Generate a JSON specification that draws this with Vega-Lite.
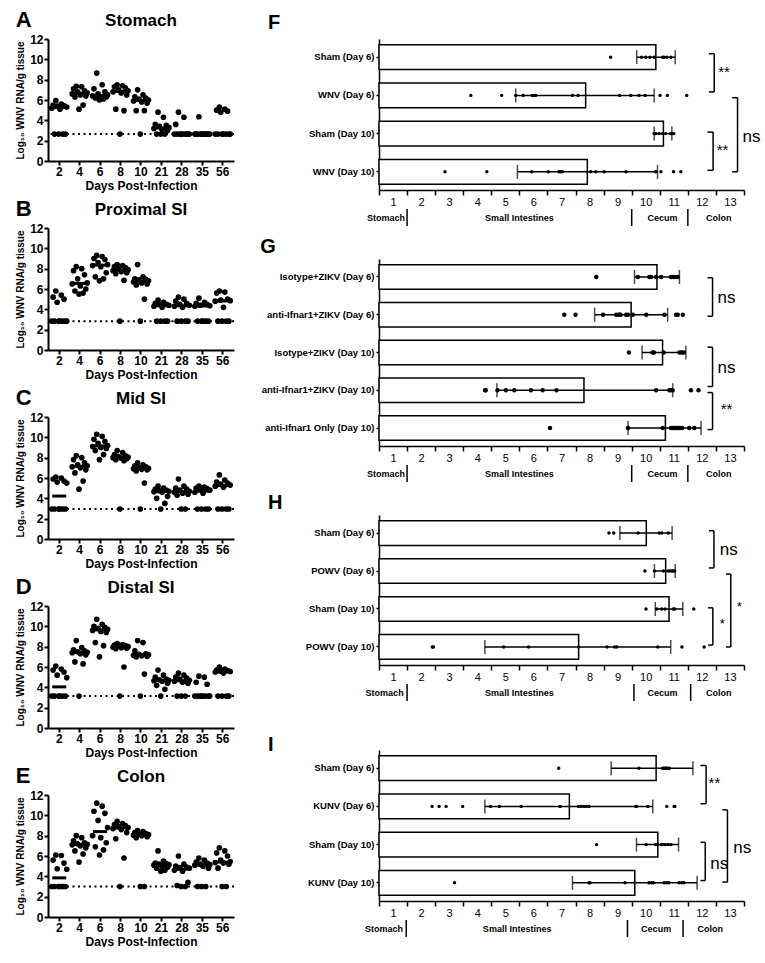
{
"$schema": "https://vega.github.io/schema/vega-lite/v6.json",
"background": "white",
"padding": {"left": 15, "top": 9, "right": 0, "bottom": 0},
"config": {"font": "Liberation Sans", "view": {"stroke": null}, "axis": {"domainColor": "black", "tickColor": "black", "labelColor": "black", "titleColor": "black", "grid": false, "labelOverlap": false, "labelSeparation": -200}, "title": {"color": "black"}},
"datasets": {
"A": [
{"d":2,"m":1,"v":5.2},{"d":2,"m":2,"v":5.5},{"d":2,"m":3,"v":2.65},{"d":2,"m":4,"v":5.95},{"d":2,"m":5,"v":5.4},{"d":2,"m":6,"v":2.65},{"d":2,"m":7,"v":5.1},{"d":2,"m":8,"v":5.6},{"d":2,"m":9,"v":2.65},{"d":2,"m":10,"v":5.45},{"d":2,"m":11,"v":2.65},{"d":2,"m":12,"v":5.3},
{"d":4,"m":1,"v":6.6},{"d":4,"m":2,"v":7.1},{"d":4,"m":3,"v":6.3},{"d":4,"m":4,"v":7.35},{"d":4,"m":5,"v":6.8},{"d":4,"m":6,"v":5.1},{"d":4,"m":7,"v":6.5},{"d":4,"m":8,"v":7.3},{"d":4,"m":9,"v":5.5},{"d":4,"m":10,"v":6.9},{"d":4,"m":11,"v":6.4},{"d":4,"m":12,"v":6.7},
{"d":6,"m":1,"v":6.4},{"d":6,"m":2,"v":7.1},{"d":6,"m":3,"v":6.2},{"d":6,"m":4,"v":8.65},{"d":6,"m":5,"v":6.6},{"d":6,"m":6,"v":6.0},{"d":6,"m":7,"v":6.3},{"d":6,"m":8,"v":7.5},{"d":6,"m":9,"v":6.1},{"d":6,"m":10,"v":6.8},{"d":6,"m":11,"v":6.3},{"d":6,"m":12,"v":6.5},
{"d":8,"m":1,"v":6.8},{"d":8,"m":2,"v":7.3},{"d":8,"m":3,"v":5.1},{"d":8,"m":4,"v":7.5},{"d":8,"m":5,"v":7.0},{"d":8,"m":6,"v":2.65},{"d":8,"m":7,"v":6.7},{"d":8,"m":8,"v":7.4},{"d":8,"m":9,"v":4.95},{"d":8,"m":10,"v":7.2},{"d":8,"m":11,"v":6.5},{"d":8,"m":12,"v":6.9},
{"d":10,"m":1,"v":5.9},{"d":10,"m":2,"v":6.3},{"d":10,"m":3,"v":4.95},{"d":10,"m":4,"v":7.0},{"d":10,"m":5,"v":6.1},{"d":10,"m":6,"v":2.65},{"d":10,"m":7,"v":5.8},{"d":10,"m":8,"v":6.5},{"d":10,"m":9,"v":4.95},{"d":10,"m":10,"v":6.2},{"d":10,"m":11,"v":5.7},{"d":10,"m":12,"v":6.0},
{"d":21,"m":1,"v":3.2},{"d":21,"m":2,"v":3.6},{"d":21,"m":3,"v":2.65},{"d":21,"m":4,"v":4.8},{"d":21,"m":5,"v":3.4},{"d":21,"m":6,"v":2.65},{"d":21,"m":7,"v":3.1},{"d":21,"m":8,"v":4.3},{"d":21,"m":9,"v":2.65},{"d":21,"m":10,"v":3.5},{"d":21,"m":11,"v":3.0},{"d":21,"m":12,"v":3.3},
{"d":28,"m":1,"v":2.65},{"d":28,"m":2,"v":3.6},{"d":28,"m":3,"v":2.65},{"d":28,"m":4,"v":4.8},{"d":28,"m":5,"v":2.65},{"d":28,"m":6,"v":2.65},{"d":28,"m":7,"v":2.65},{"d":28,"m":8,"v":4.3},{"d":28,"m":9,"v":2.65},{"d":28,"m":10,"v":2.65},{"d":28,"m":11,"v":2.65},{"d":28,"m":12,"v":2.65},
{"d":35,"m":1,"v":2.65},{"d":35,"m":2,"v":2.65},{"d":35,"m":3,"v":2.65},{"d":35,"m":4,"v":4.35},{"d":35,"m":5,"v":2.65},{"d":35,"m":6,"v":2.65},{"d":35,"m":7,"v":2.65},{"d":35,"m":8,"v":2.65},{"d":35,"m":9,"v":2.65},{"d":35,"m":10,"v":2.65},{"d":35,"m":11,"v":2.65},{"d":35,"m":12,"v":2.65},
{"d":56,"m":1,"v":2.65},{"d":56,"m":2,"v":5.0},{"d":56,"m":3,"v":2.65},{"d":56,"m":4,"v":5.3},{"d":56,"m":5,"v":4.8},{"d":56,"m":6,"v":2.65},{"d":56,"m":7,"v":2.65},{"d":56,"m":8,"v":5.1},{"d":56,"m":9,"v":2.65},{"d":56,"m":10,"v":4.9},{"d":56,"m":11,"v":2.65},{"d":56,"m":12,"v":2.65}
],
"B": [
{"d":2,"m":1,"v":2.84},{"d":2,"m":2,"v":5.2},{"d":2,"m":3,"v":2.84},{"d":2,"m":4,"v":5.8},{"d":2,"m":5,"v":4.7},{"d":2,"m":6,"v":2.84},{"d":2,"m":7,"v":2.84},{"d":2,"m":8,"v":5.4},{"d":2,"m":9,"v":2.84},{"d":2,"m":10,"v":5.0},{"d":2,"m":11,"v":2.84},{"d":2,"m":12,"v":2.84},
{"d":4,"m":1,"v":6.5},{"d":4,"m":2,"v":7.8},{"d":4,"m":3,"v":5.8},{"d":4,"m":4,"v":8.2},{"d":4,"m":5,"v":7.0},{"d":4,"m":6,"v":5.5},{"d":4,"m":7,"v":6.3},{"d":4,"m":8,"v":8.0},{"d":4,"m":9,"v":5.6},{"d":4,"m":10,"v":7.4},{"d":4,"m":11,"v":6.0},{"d":4,"m":12,"v":6.6},
{"d":6,"m":1,"v":8.3},{"d":6,"m":2,"v":9.0},{"d":6,"m":3,"v":7.2},{"d":6,"m":4,"v":9.3},{"d":6,"m":5,"v":8.6},{"d":6,"m":6,"v":6.8},{"d":6,"m":7,"v":8.2},{"d":6,"m":8,"v":9.2},{"d":6,"m":9,"v":7.0},{"d":6,"m":10,"v":8.9},{"d":6,"m":11,"v":7.6},{"d":6,"m":12,"v":8.4},
{"d":8,"m":1,"v":7.8},{"d":8,"m":2,"v":8.2},{"d":8,"m":3,"v":7.5},{"d":8,"m":4,"v":8.4},{"d":8,"m":5,"v":8.0},{"d":8,"m":6,"v":2.84},{"d":8,"m":7,"v":7.7},{"d":8,"m":8,"v":8.3},{"d":8,"m":9,"v":6.85},{"d":8,"m":10,"v":8.1},{"d":8,"m":11,"v":7.6},{"d":8,"m":12,"v":7.9},
{"d":10,"m":1,"v":6.7},{"d":10,"m":2,"v":7.0},{"d":10,"m":3,"v":6.4},{"d":10,"m":4,"v":8.4},{"d":10,"m":5,"v":6.9},{"d":10,"m":6,"v":2.84},{"d":10,"m":7,"v":6.6},{"d":10,"m":8,"v":7.2},{"d":10,"m":9,"v":5.0},{"d":10,"m":10,"v":6.95},{"d":10,"m":11,"v":6.5},{"d":10,"m":12,"v":6.8},
{"d":21,"m":1,"v":4.3},{"d":21,"m":2,"v":4.6},{"d":21,"m":3,"v":2.84},{"d":21,"m":4,"v":4.9},{"d":21,"m":5,"v":4.5},{"d":21,"m":6,"v":2.84},{"d":21,"m":7,"v":4.2},{"d":21,"m":8,"v":4.7},{"d":21,"m":9,"v":2.84},{"d":21,"m":10,"v":4.5},{"d":21,"m":11,"v":2.84},{"d":21,"m":12,"v":4.4},
{"d":28,"m":1,"v":4.3},{"d":28,"m":2,"v":4.8},{"d":28,"m":3,"v":2.84},{"d":28,"m":4,"v":5.2},{"d":28,"m":5,"v":4.5},{"d":28,"m":6,"v":2.84},{"d":28,"m":7,"v":4.2},{"d":28,"m":8,"v":5.0},{"d":28,"m":9,"v":2.84},{"d":28,"m":10,"v":4.6},{"d":28,"m":11,"v":2.84},{"d":28,"m":12,"v":4.4},
{"d":35,"m":1,"v":4.3},{"d":35,"m":2,"v":4.6},{"d":35,"m":3,"v":2.84},{"d":35,"m":4,"v":5.1},{"d":35,"m":5,"v":4.4},{"d":35,"m":6,"v":2.84},{"d":35,"m":7,"v":2.84},{"d":35,"m":8,"v":4.7},{"d":35,"m":9,"v":2.84},{"d":35,"m":10,"v":4.5},{"d":35,"m":11,"v":2.84},{"d":35,"m":12,"v":4.35},
{"d":56,"m":1,"v":4.8},{"d":56,"m":2,"v":5.6},{"d":56,"m":3,"v":2.84},{"d":56,"m":4,"v":5.8},{"d":56,"m":5,"v":4.9},{"d":56,"m":6,"v":2.84},{"d":56,"m":7,"v":4.2},{"d":56,"m":8,"v":5.7},{"d":56,"m":9,"v":2.84},{"d":56,"m":10,"v":5.0},{"d":56,"m":11,"v":2.84},{"d":56,"m":12,"v":4.85}
],
"C": [
{"d":2,"m":1,"v":2.95},{"d":2,"m":2,"v":5.9},{"d":2,"m":3,"v":2.95},{"d":2,"m":4,"v":6.1},{"d":2,"m":5,"v":5.6},{"d":2,"m":6,"v":2.95},{"d":2,"m":7,"v":2.95},{"d":2,"m":8,"v":6.0},{"d":2,"m":9,"v":2.95},{"d":2,"m":10,"v":5.7},{"d":2,"m":11,"v":2.95},{"d":2,"m":12,"v":5.5},
{"d":4,"m":1,"v":7.1},{"d":4,"m":2,"v":7.8},{"d":4,"m":3,"v":6.5},{"d":4,"m":4,"v":8.2},{"d":4,"m":5,"v":7.3},{"d":4,"m":6,"v":4.9},{"d":4,"m":7,"v":7.0},{"d":4,"m":8,"v":8.0},{"d":4,"m":9,"v":5.7},{"d":4,"m":10,"v":7.5},{"d":4,"m":11,"v":6.8},{"d":4,"m":12,"v":7.2},
{"d":6,"m":1,"v":9.1},{"d":6,"m":2,"v":9.8},{"d":6,"m":3,"v":8.7},{"d":6,"m":4,"v":10.3},{"d":6,"m":5,"v":9.4},{"d":6,"m":6,"v":7.8},{"d":6,"m":7,"v":9.0},{"d":6,"m":8,"v":10.1},{"d":6,"m":9,"v":8.3},{"d":6,"m":10,"v":9.6},{"d":6,"m":11,"v":8.9},{"d":6,"m":12,"v":9.2},
{"d":8,"m":1,"v":8.0},{"d":8,"m":2,"v":8.3},{"d":8,"m":3,"v":7.8},{"d":8,"m":4,"v":8.7},{"d":8,"m":5,"v":8.1},{"d":8,"m":6,"v":2.95},{"d":8,"m":7,"v":7.95},{"d":8,"m":8,"v":8.5},{"d":8,"m":9,"v":7.7},{"d":8,"m":10,"v":8.2},{"d":8,"m":11,"v":7.9},{"d":8,"m":12,"v":8.05},
{"d":10,"m":1,"v":6.9},{"d":10,"m":2,"v":7.2},{"d":10,"m":3,"v":6.7},{"d":10,"m":4,"v":7.5},{"d":10,"m":5,"v":7.0},{"d":10,"m":6,"v":2.95},{"d":10,"m":7,"v":6.85},{"d":10,"m":8,"v":7.3},{"d":10,"m":9,"v":5.5},{"d":10,"m":10,"v":7.1},{"d":10,"m":11,"v":6.8},{"d":10,"m":12,"v":6.95},
{"d":21,"m":1,"v":4.65},{"d":21,"m":2,"v":4.9},{"d":21,"m":3,"v":4.0},{"d":21,"m":4,"v":5.2},{"d":21,"m":5,"v":4.75},{"d":21,"m":6,"v":2.95},{"d":21,"m":7,"v":4.6},{"d":21,"m":8,"v":5.0},{"d":21,"m":9,"v":3.5},{"d":21,"m":10,"v":4.8},{"d":21,"m":11,"v":4.2},{"d":21,"m":12,"v":4.7},
{"d":28,"m":1,"v":4.6},{"d":28,"m":2,"v":5.0},{"d":28,"m":3,"v":4.3},{"d":28,"m":4,"v":5.9},{"d":28,"m":5,"v":4.8},{"d":28,"m":6,"v":2.95},{"d":28,"m":7,"v":4.5},{"d":28,"m":8,"v":5.2},{"d":28,"m":9,"v":2.95},{"d":28,"m":10,"v":4.9},{"d":28,"m":11,"v":4.4},{"d":28,"m":12,"v":4.7},
{"d":35,"m":1,"v":4.6},{"d":35,"m":2,"v":5.0},{"d":35,"m":3,"v":2.95},{"d":35,"m":4,"v":5.2},{"d":35,"m":5,"v":4.9},{"d":35,"m":6,"v":2.95},{"d":35,"m":7,"v":4.5},{"d":35,"m":8,"v":5.1},{"d":35,"m":9,"v":2.95},{"d":35,"m":10,"v":4.95},{"d":35,"m":11,"v":2.95},{"d":35,"m":12,"v":4.8},
{"d":56,"m":1,"v":5.2},{"d":56,"m":2,"v":5.6},{"d":56,"m":3,"v":2.95},{"d":56,"m":4,"v":6.3},{"d":56,"m":5,"v":5.4},{"d":56,"m":6,"v":2.95},{"d":56,"m":7,"v":5.1},{"d":56,"m":8,"v":5.8},{"d":56,"m":9,"v":2.95},{"d":56,"m":10,"v":5.5},{"d":56,"m":11,"v":2.95},{"d":56,"m":12,"v":5.3}
],
"D": [
{"d":2,"m":1,"v":3.14},{"d":2,"m":2,"v":5.7},{"d":2,"m":3,"v":3.14},{"d":2,"m":4,"v":6.1},{"d":2,"m":5,"v":5.2},{"d":2,"m":6,"v":3.14},{"d":2,"m":7,"v":3.14},{"d":2,"m":8,"v":5.8},{"d":2,"m":9,"v":3.14},{"d":2,"m":10,"v":5.5},{"d":2,"m":11,"v":3.14},{"d":2,"m":12,"v":4.95},
{"d":4,"m":1,"v":7.4},{"d":4,"m":2,"v":7.7},{"d":4,"m":3,"v":6.5},{"d":4,"m":4,"v":8.6},{"d":4,"m":5,"v":7.5},{"d":4,"m":6,"v":3.14},{"d":4,"m":7,"v":7.3},{"d":4,"m":8,"v":7.9},{"d":4,"m":9,"v":6.3},{"d":4,"m":10,"v":7.6},{"d":4,"m":11,"v":7.2},{"d":4,"m":12,"v":7.45},
{"d":6,"m":1,"v":9.6},{"d":6,"m":2,"v":10.0},{"d":6,"m":3,"v":8.4},{"d":6,"m":4,"v":10.7},{"d":6,"m":5,"v":9.8},{"d":6,"m":6,"v":7.0},{"d":6,"m":7,"v":9.5},{"d":6,"m":8,"v":10.2},{"d":6,"m":9,"v":8.1},{"d":6,"m":10,"v":9.9},{"d":6,"m":11,"v":9.4},{"d":6,"m":12,"v":9.7},
{"d":8,"m":1,"v":7.95},{"d":8,"m":2,"v":8.15},{"d":8,"m":3,"v":7.8},{"d":8,"m":4,"v":8.3},{"d":8,"m":5,"v":8.05},{"d":8,"m":6,"v":3.14},{"d":8,"m":7,"v":7.9},{"d":8,"m":8,"v":8.2},{"d":8,"m":9,"v":6.0},{"d":8,"m":10,"v":8.1},{"d":8,"m":11,"v":7.85},{"d":8,"m":12,"v":8.0},
{"d":10,"m":1,"v":7.15},{"d":10,"m":2,"v":7.6},{"d":10,"m":3,"v":7.0},{"d":10,"m":4,"v":8.6},{"d":10,"m":5,"v":7.25},{"d":10,"m":6,"v":3.14},{"d":10,"m":7,"v":7.1},{"d":10,"m":8,"v":8.4},{"d":10,"m":9,"v":5.3},{"d":10,"m":10,"v":7.3},{"d":10,"m":11,"v":7.05},{"d":10,"m":12,"v":7.2},
{"d":21,"m":1,"v":4.65},{"d":21,"m":2,"v":5.0},{"d":21,"m":3,"v":4.2},{"d":21,"m":4,"v":5.7},{"d":21,"m":5,"v":4.75},{"d":21,"m":6,"v":3.14},{"d":21,"m":7,"v":4.6},{"d":21,"m":8,"v":5.2},{"d":21,"m":9,"v":3.8},{"d":21,"m":10,"v":4.8},{"d":21,"m":11,"v":4.4},{"d":21,"m":12,"v":4.7},
{"d":28,"m":1,"v":4.6},{"d":28,"m":2,"v":5.0},{"d":28,"m":3,"v":3.14},{"d":28,"m":4,"v":5.4},{"d":28,"m":5,"v":4.8},{"d":28,"m":6,"v":3.14},{"d":28,"m":7,"v":4.5},{"d":28,"m":8,"v":5.2},{"d":28,"m":9,"v":3.14},{"d":28,"m":10,"v":4.9},{"d":28,"m":11,"v":4.4},{"d":28,"m":12,"v":4.7},
{"d":35,"m":1,"v":3.14},{"d":35,"m":2,"v":4.5},{"d":35,"m":3,"v":3.14},{"d":35,"m":4,"v":5.1},{"d":35,"m":5,"v":3.14},{"d":35,"m":6,"v":3.14},{"d":35,"m":7,"v":3.14},{"d":35,"m":8,"v":5.0},{"d":35,"m":9,"v":3.14},{"d":35,"m":10,"v":4.3},{"d":35,"m":11,"v":3.14},{"d":35,"m":12,"v":3.14},
{"d":56,"m":1,"v":5.5},{"d":56,"m":2,"v":5.7},{"d":56,"m":3,"v":3.14},{"d":56,"m":4,"v":6.0},{"d":56,"m":5,"v":5.6},{"d":56,"m":6,"v":3.14},{"d":56,"m":7,"v":5.4},{"d":56,"m":8,"v":5.8},{"d":56,"m":9,"v":3.14},{"d":56,"m":10,"v":5.65},{"d":56,"m":11,"v":3.14},{"d":56,"m":12,"v":5.55}
],
"E": [
{"d":2,"m":1,"v":3.0},{"d":2,"m":2,"v":5.6},{"d":2,"m":3,"v":3.0},{"d":2,"m":4,"v":6.1},{"d":2,"m":5,"v":4.75},{"d":2,"m":6,"v":3.0},{"d":2,"m":7,"v":3.0},{"d":2,"m":8,"v":6.05},{"d":2,"m":9,"v":3.0},{"d":2,"m":10,"v":5.3},{"d":2,"m":11,"v":3.0},{"d":2,"m":12,"v":4.7},
{"d":4,"m":1,"v":7.1},{"d":4,"m":2,"v":7.5},{"d":4,"m":3,"v":6.5},{"d":4,"m":4,"v":8.0},{"d":4,"m":5,"v":7.2},{"d":4,"m":6,"v":5.4},{"d":4,"m":7,"v":7.0},{"d":4,"m":8,"v":7.8},{"d":4,"m":9,"v":6.2},{"d":4,"m":10,"v":7.3},{"d":4,"m":11,"v":6.8},{"d":4,"m":12,"v":7.15},
{"d":6,"m":1,"v":8.0},{"d":6,"m":2,"v":10.4},{"d":6,"m":3,"v":6.9},{"d":6,"m":4,"v":11.2},{"d":6,"m":5,"v":9.5},{"d":6,"m":6,"v":6.1},{"d":6,"m":7,"v":7.8},{"d":6,"m":8,"v":10.9},{"d":6,"m":9,"v":6.6},{"d":6,"m":10,"v":10.2},{"d":6,"m":11,"v":7.3},{"d":6,"m":12,"v":8.8},
{"d":8,"m":1,"v":8.7},{"d":8,"m":2,"v":9.1},{"d":8,"m":3,"v":7.7},{"d":8,"m":4,"v":9.4},{"d":8,"m":5,"v":8.9},{"d":8,"m":6,"v":3.0},{"d":8,"m":7,"v":8.6},{"d":8,"m":8,"v":9.2},{"d":8,"m":9,"v":5.8},{"d":8,"m":10,"v":9.0},{"d":8,"m":11,"v":8.3},{"d":8,"m":12,"v":8.8},
{"d":10,"m":1,"v":8.05},{"d":10,"m":2,"v":8.3},{"d":10,"m":3,"v":7.8},{"d":10,"m":4,"v":8.5},{"d":10,"m":5,"v":8.15},{"d":10,"m":6,"v":3.0},{"d":10,"m":7,"v":8.0},{"d":10,"m":8,"v":8.4},{"d":10,"m":9,"v":3.0},{"d":10,"m":10,"v":8.2},{"d":10,"m":11,"v":7.9},{"d":10,"m":12,"v":8.1},
{"d":21,"m":1,"v":5.1},{"d":21,"m":2,"v":5.3},{"d":21,"m":3,"v":4.8},{"d":21,"m":4,"v":6.5},{"d":21,"m":5,"v":5.2},{"d":21,"m":6,"v":4.5},{"d":21,"m":7,"v":5.0},{"d":21,"m":8,"v":5.5},{"d":21,"m":9,"v":4.6},{"d":21,"m":10,"v":5.25},{"d":21,"m":11,"v":4.9},{"d":21,"m":12,"v":5.15},
{"d":28,"m":1,"v":4.6},{"d":28,"m":2,"v":5.0},{"d":28,"m":3,"v":3.1},{"d":28,"m":4,"v":6.0},{"d":28,"m":5,"v":4.85},{"d":28,"m":6,"v":3.0},{"d":28,"m":7,"v":4.5},{"d":28,"m":8,"v":5.2},{"d":28,"m":9,"v":3.0},{"d":28,"m":10,"v":4.9},{"d":28,"m":11,"v":3.4},{"d":28,"m":12,"v":4.8},
{"d":35,"m":1,"v":5.1},{"d":35,"m":2,"v":5.4},{"d":35,"m":3,"v":3.0},{"d":35,"m":4,"v":5.8},{"d":35,"m":5,"v":5.2},{"d":35,"m":6,"v":3.0},{"d":35,"m":7,"v":5.0},{"d":35,"m":8,"v":5.6},{"d":35,"m":9,"v":3.0},{"d":35,"m":10,"v":5.3},{"d":35,"m":11,"v":4.8},{"d":35,"m":12,"v":5.15},
{"d":56,"m":1,"v":5.35},{"d":56,"m":2,"v":6.3},{"d":56,"m":3,"v":4.8},{"d":56,"m":4,"v":6.8},{"d":56,"m":5,"v":5.6},{"d":56,"m":6,"v":3.0},{"d":56,"m":7,"v":5.3},{"d":56,"m":8,"v":6.5},{"d":56,"m":9,"v":3.0},{"d":56,"m":10,"v":6.0},{"d":56,"m":11,"v":5.2},{"d":56,"m":12,"v":5.45}
],
"Fbar": [
{"g":"Sham (Day 6)","mean":9.86,"lo":9.18,"hi":10.55},
{"g":"WNV (Day 6)","mean":7.36,"lo":4.87,"hi":9.8},
{"g":"Sham (Day 10)","mean":10.13,"lo":9.8,"hi":10.43},
{"g":"WNV (Day 10)","mean":7.42,"lo":4.93,"hi":9.92}],
"Fpts": [
{"g":"Sham (Day 6)","v":8.25},{"g":"Sham (Day 6)","v":9.35},{"g":"Sham (Day 6)","v":9.5},{"g":"Sham (Day 6)","v":9.65},{"g":"Sham (Day 6)","v":9.8},{"g":"Sham (Day 6)","v":10.1},{"g":"Sham (Day 6)","v":10.15},{"g":"Sham (Day 6)","v":10.25},{"g":"Sham (Day 6)","v":10.4},
{"g":"WNV (Day 6)","v":3.27},{"g":"WNV (Day 6)","v":4.37},{"g":"WNV (Day 6)","v":4.87},{"g":"WNV (Day 6)","v":5.14},{"g":"WNV (Day 6)","v":5.46},{"g":"WNV (Day 6)","v":5.52},{"g":"WNV (Day 6)","v":5.58},{"g":"WNV (Day 6)","v":6.89},{"g":"WNV (Day 6)","v":7.09},{"g":"WNV (Day 6)","v":8.57},{"g":"WNV (Day 6)","v":8.97},{"g":"WNV (Day 6)","v":9.26},{"g":"WNV (Day 6)","v":9.48},{"g":"WNV (Day 6)","v":10.01},{"g":"WNV (Day 6)","v":10.27},{"g":"WNV (Day 6)","v":10.96},
{"g":"Sham (Day 10)","v":9.8},{"g":"Sham (Day 10)","v":9.83},{"g":"Sham (Day 10)","v":9.86},{"g":"Sham (Day 10)","v":9.98},{"g":"Sham (Day 10)","v":10.1},{"g":"Sham (Day 10)","v":10.21},{"g":"Sham (Day 10)","v":10.39},{"g":"Sham (Day 10)","v":10.45},{"g":"Sham (Day 10)","v":10.5},
{"g":"WNV (Day 10)","v":2.35},{"g":"WNV (Day 10)","v":3.84},{"g":"WNV (Day 10)","v":5.44},{"g":"WNV (Day 10)","v":6.03},{"g":"WNV (Day 10)","v":6.41},{"g":"WNV (Day 10)","v":6.47},{"g":"WNV (Day 10)","v":6.53},{"g":"WNV (Day 10)","v":7.54},{"g":"WNV (Day 10)","v":7.72},{"g":"WNV (Day 10)","v":8.02},{"g":"WNV (Day 10)","v":8.79},{"g":"WNV (Day 10)","v":9.86},{"g":"WNV (Day 10)","v":10.04},{"g":"WNV (Day 10)","v":10.49},{"g":"WNV (Day 10)","v":10.75}],
"Fbr": [
{"a":0.91,"b":1.91,"x":11.94,"xl":11.75,"lx":12.08,"ly":1.39,"t":"**"},
{"a":2.06,"b":4.0,"x":12.77,"xl":12.58,"lx":12.95,"ly":3.09,"t":"ns"},
{"a":2.96,"b":3.96,"x":11.9,"xl":11.7,"lx":12.03,"ly":3.43,"t":"**"}],
"Gbar": [
{"g":"Isotype+ZIKV (Day 6)","mean":9.9,"lo":9.1,"hi":10.7},
{"g":"anti-Ifnar1+ZIKV (Day 6)","mean":8.98,"lo":7.68,"hi":10.28},
{"g":"Isotype+ZIKV (Day 10)","mean":10.1,"lo":9.37,"hi":10.93},
{"g":"anti-Ifnar1+ZIKV (Day 10)","mean":7.3,"lo":4.2,"hi":10.46},
{"g":"anti-Ifnar1 Only (Day 10)","mean":10.2,"lo":8.87,"hi":11.47}],
"Gpts": [
{"g":"Isotype+ZIKV (Day 6)","v":7.74},{"g":"Isotype+ZIKV (Day 6)","v":9.22},{"g":"Isotype+ZIKV (Day 6)","v":9.63},{"g":"Isotype+ZIKV (Day 6)","v":9.69},{"g":"Isotype+ZIKV (Day 6)","v":9.87},{"g":"Isotype+ZIKV (Day 6)","v":10.05},{"g":"Isotype+ZIKV (Day 6)","v":10.4},{"g":"Isotype+ZIKV (Day 6)","v":10.5},{"g":"Isotype+ZIKV (Day 6)","v":10.54},{"g":"Isotype+ZIKV (Day 6)","v":10.64},
{"g":"anti-Ifnar1+ZIKV (Day 6)","v":6.6},{"g":"anti-Ifnar1+ZIKV (Day 6)","v":7.0},{"g":"anti-Ifnar1+ZIKV (Day 6)","v":7.98},{"g":"anti-Ifnar1+ZIKV (Day 6)","v":8.45},{"g":"anti-Ifnar1+ZIKV (Day 6)","v":8.53},{"g":"anti-Ifnar1+ZIKV (Day 6)","v":8.57},{"g":"anti-Ifnar1+ZIKV (Day 6)","v":8.6},{"g":"anti-Ifnar1+ZIKV (Day 6)","v":8.8},{"g":"anti-Ifnar1+ZIKV (Day 6)","v":8.87},{"g":"anti-Ifnar1+ZIKV (Day 6)","v":9.04},{"g":"anti-Ifnar1+ZIKV (Day 6)","v":9.52},{"g":"anti-Ifnar1+ZIKV (Day 6)","v":10.17},{"g":"anti-Ifnar1+ZIKV (Day 6)","v":10.58},{"g":"anti-Ifnar1+ZIKV (Day 6)","v":10.64},{"g":"anti-Ifnar1+ZIKV (Day 6)","v":10.82},
{"g":"Isotype+ZIKV (Day 10)","v":8.9},{"g":"Isotype+ZIKV (Day 10)","v":9.75},{"g":"Isotype+ZIKV (Day 10)","v":9.79},{"g":"Isotype+ZIKV (Day 10)","v":10.14},{"g":"Isotype+ZIKV (Day 10)","v":10.7},{"g":"Isotype+ZIKV (Day 10)","v":10.78},{"g":"Isotype+ZIKV (Day 10)","v":10.85},
{"g":"anti-Ifnar1+ZIKV (Day 10)","v":3.78},{"g":"anti-Ifnar1+ZIKV (Day 10)","v":3.8},{"g":"anti-Ifnar1+ZIKV (Day 10)","v":4.22},{"g":"anti-Ifnar1+ZIKV (Day 10)","v":4.52},{"g":"anti-Ifnar1+ZIKV (Day 10)","v":4.82},{"g":"anti-Ifnar1+ZIKV (Day 10)","v":5.41},{"g":"anti-Ifnar1+ZIKV (Day 10)","v":5.83},{"g":"anti-Ifnar1+ZIKV (Day 10)","v":6.32},{"g":"anti-Ifnar1+ZIKV (Day 10)","v":9.87},{"g":"anti-Ifnar1+ZIKV (Day 10)","v":10.34},{"g":"anti-Ifnar1+ZIKV (Day 10)","v":10.4},{"g":"anti-Ifnar1+ZIKV (Day 10)","v":10.46},{"g":"anti-Ifnar1+ZIKV (Day 10)","v":11.11},{"g":"anti-Ifnar1+ZIKV (Day 10)","v":11.38},
{"g":"anti-Ifnar1 Only (Day 10)","v":6.09},{"g":"anti-Ifnar1 Only (Day 10)","v":8.87},{"g":"anti-Ifnar1 Only (Day 10)","v":10.1},{"g":"anti-Ifnar1 Only (Day 10)","v":10.4},{"g":"anti-Ifnar1 Only (Day 10)","v":10.45},{"g":"anti-Ifnar1 Only (Day 10)","v":10.5},{"g":"anti-Ifnar1 Only (Day 10)","v":10.55},{"g":"anti-Ifnar1 Only (Day 10)","v":10.6},{"g":"anti-Ifnar1 Only (Day 10)","v":10.65},{"g":"anti-Ifnar1 Only (Day 10)","v":10.7},{"g":"anti-Ifnar1 Only (Day 10)","v":10.75},{"g":"anti-Ifnar1 Only (Day 10)","v":10.8},{"g":"anti-Ifnar1 Only (Day 10)","v":11.05},{"g":"anti-Ifnar1 Only (Day 10)","v":11.23}],
"Gbr": [
{"a":1.02,"b":2.04,"x":11.88,"xl":11.7,"lx":12.06,"ly":1.56,"t":"ns"},
{"a":2.86,"b":3.9,"x":11.88,"xl":11.7,"lx":12.06,"ly":3.4,"t":"ns"},
{"a":4.06,"b":5.04,"x":11.88,"xl":11.7,"lx":12.17,"ly":4.5,"t":"**"}],
"Hbar": [
{"g":"Sham (Day 6)","mean":9.52,"lo":8.58,"hi":10.44},
{"g":"POWV (Day 6)","mean":10.21,"lo":9.81,"hi":10.55},
{"g":"Sham (Day 10)","mean":10.33,"lo":9.84,"hi":10.82},
{"g":"POWV (Day 10)","mean":7.11,"lo":3.77,"hi":10.39}],
"Hpts": [
{"g":"Sham (Day 6)","v":8.19},{"g":"Sham (Day 6)","v":8.36},{"g":"Sham (Day 6)","v":9.23},{"g":"Sham (Day 6)","v":9.98},{"g":"Sham (Day 6)","v":10.07},{"g":"Sham (Day 6)","v":10.3},
{"g":"POWV (Day 6)","v":9.47},{"g":"POWV (Day 6)","v":9.81},{"g":"POWV (Day 6)","v":10.13},{"g":"POWV (Day 6)","v":10.3},{"g":"POWV (Day 6)","v":10.36},{"g":"POWV (Day 6)","v":10.44},{"g":"POWV (Day 6)","v":10.47},{"g":"POWV (Day 6)","v":10.53},
{"g":"Sham (Day 10)","v":9.51},{"g":"Sham (Day 10)","v":9.9},{"g":"Sham (Day 10)","v":10.07},{"g":"Sham (Day 10)","v":10.19},{"g":"Sham (Day 10)","v":10.48},{"g":"Sham (Day 10)","v":10.53},{"g":"Sham (Day 10)","v":11.21},
{"g":"POWV (Day 10)","v":1.9},{"g":"POWV (Day 10)","v":1.94},{"g":"POWV (Day 10)","v":4.44},{"g":"POWV (Day 10)","v":5.33},{"g":"POWV (Day 10)","v":7.11},{"g":"POWV (Day 10)","v":8.12},{"g":"POWV (Day 10)","v":8.39},{"g":"POWV (Day 10)","v":8.47},{"g":"POWV (Day 10)","v":9.93},{"g":"POWV (Day 10)","v":10.79},{"g":"POWV (Day 10)","v":11.58}],
"Hbr": [
{"a":0.94,"b":1.92,"x":11.93,"xl":11.75,"lx":12.14,"ly":1.45,"t":"ns"},
{"a":2.08,"b":4.0,"x":12.53,"xl":12.36,"lx":12.74,"ly":2.95,"t":"*"},
{"a":2.97,"b":3.95,"x":11.89,"xl":11.72,"lx":12.14,"ly":3.4,"t":"*"}],
"Ibar": [
{"g":"Sham (Day 6)","mean":9.87,"lo":8.27,"hi":11.18},
{"g":"KUNV (Day 6)","mean":6.78,"lo":3.77,"hi":9.75},
{"g":"Sham (Day 10)","mean":9.93,"lo":9.17,"hi":10.67},
{"g":"KUNV (Day 10)","mean":9.11,"lo":6.89,"hi":11.33}],
"Ipts": [
{"g":"Sham (Day 6)","v":6.4},{"g":"Sham (Day 6)","v":9.26},{"g":"Sham (Day 6)","v":10.1},{"g":"Sham (Day 6)","v":10.15},{"g":"Sham (Day 6)","v":10.2},{"g":"Sham (Day 6)","v":10.22},{"g":"Sham (Day 6)","v":10.25},{"g":"Sham (Day 6)","v":10.3},{"g":"Sham (Day 6)","v":10.34},
{"g":"KUNV (Day 6)","v":1.89},{"g":"KUNV (Day 6)","v":2.14},{"g":"KUNV (Day 6)","v":2.39},{"g":"KUNV (Day 6)","v":2.98},{"g":"KUNV (Day 6)","v":3.97},{"g":"KUNV (Day 6)","v":4.29},{"g":"KUNV (Day 6)","v":5.06},{"g":"KUNV (Day 6)","v":6.45},{"g":"KUNV (Day 6)","v":7.1},{"g":"KUNV (Day 6)","v":7.2},{"g":"KUNV (Day 6)","v":7.3},{"g":"KUNV (Day 6)","v":7.38},{"g":"KUNV (Day 6)","v":7.48},{"g":"KUNV (Day 6)","v":9.15},{"g":"KUNV (Day 6)","v":9.17},{"g":"KUNV (Day 6)","v":9.58},{"g":"KUNV (Day 6)","v":10.25},{"g":"KUNV (Day 6)","v":10.51},{"g":"KUNV (Day 6)","v":10.54},
{"g":"Sham (Day 10)","v":7.75},{"g":"Sham (Day 10)","v":9.52},{"g":"Sham (Day 10)","v":9.85},{"g":"Sham (Day 10)","v":9.93},{"g":"Sham (Day 10)","v":10.05},{"g":"Sham (Day 10)","v":10.1},{"g":"Sham (Day 10)","v":10.15},{"g":"Sham (Day 10)","v":10.2},{"g":"Sham (Day 10)","v":10.3},{"g":"Sham (Day 10)","v":10.4},
{"g":"KUNV (Day 10)","v":2.69},{"g":"KUNV (Day 10)","v":7.48},{"g":"KUNV (Day 10)","v":7.51},{"g":"KUNV (Day 10)","v":8.76},{"g":"KUNV (Day 10)","v":9.61},{"g":"KUNV (Day 10)","v":9.7},{"g":"KUNV (Day 10)","v":9.78},{"g":"KUNV (Day 10)","v":10.16},{"g":"KUNV (Day 10)","v":10.25},{"g":"KUNV (Day 10)","v":10.32},{"g":"KUNV (Day 10)","v":10.69},{"g":"KUNV (Day 10)","v":10.78},{"g":"KUNV (Day 10)","v":10.86}],
"Ibr": [
{"a":0.93,"b":1.93,"x":11.65,"xl":11.45,"lx":11.74,"ly":1.39,"t":"**"},
{"a":2.09,"b":3.98,"x":12.41,"xl":12.23,"lx":12.62,"ly":3.1,"t":"ns"},
{"a":2.94,"b":3.94,"x":11.62,"xl":11.45,"lx":11.8,"ly":3.5,"t":"ns"}],
"Fsep": [{"s":1},{"s":9},{"s":11}],
"Flab": [{"p":0.25,"t":"Stomach"},{"p":5,"t":"Small Intestines"},{"p":10.1,"t":"Cecum"},{"p":12.1,"t":"Colon"}],
"Hsep": [{"s":1},{"s":9.08},{"s":11.1}],
"Hlab": [{"p":0.2,"t":"Stomach"},{"p":5.0,"t":"Small Intestines"},{"p":10.1,"t":"Cecum"},{"p":12.1,"t":"Colon"}],
"Isep": [{"s":0.97},{"s":8.85},{"s":10.83}],
"Ilab": [{"p":0.18,"t":"Stomach"},{"p":4.92,"t":"Small Intestines"},{"p":9.87,"t":"Cecum"},{"p":11.8,"t":"Colon"}]
},
"spacing": 25,
"hconcat": [
{"spacing": 7, "vconcat": [
{"title": {"text": "A", "anchor": "start", "frame": "bounds", "fontSize": 22, "fontWeight": "bold", "offset": -20},
 "vconcat": [{"width": 186, "height": 122, "title": {"text": "Stomach", "fontSize": 17, "fontWeight": "bold", "offset": 3},
  "layer": [
   {"data": {"values": [{"lod": 2.65}]}, "mark": {"type": "rule", "strokeDash": [2, 3.5], "strokeWidth": 2, "color": "black"}, "encoding": {"y": {"field": "lod", "type": "quantitative", "title": "Log₁₀ WNV RNA/g tissue"}}},
   {"data": {"name": "A"}, "mark": {"type": "point", "filled": true, "size": 32, "color": "black", "opacity": 1},
    "encoding": {"x": {"field": "d", "type": "ordinal", "title": "Days Post-Infection", "scale": {"paddingInner": 0.2, "paddingOuter": 0.15}, "axis": {"labelAngle": 0, "labelFontSize": 12, "labelFontWeight": "bold", "tickSize": 4, "tickWidth": 2, "domainWidth": 2, "labelPadding": 1, "titleFontSize": 12, "titleFontWeight": "bold", "titlePadding": 3}},
     "xOffset": {"field": "m", "type": "ordinal"},
     "y": {"field": "v", "type": "quantitative", "title": "Log₁₀ WNV RNA/g tissue", "scale": {"domain": [0, 12], "nice": false}, "axis": {"values": [0, 2, 4, 6, 8, 10, 12], "tickCount": 7, "labelOverlap": false, "labelSeparation": -200, "labelFontSize": 12, "labelFontWeight": "bold", "tickSize": 4, "tickWidth": 2, "domainWidth": 2, "labelPadding": 1, "titleFontSize": 10, "titleFontWeight": "bold", "titlePadding": 4}}}},
   {"data": {"name": "A"}, "mark": {"type": "tick", "thickness": 3, "size": 14, "color": "black", "opacity": 1},
    "encoding": {"x": {"field": "d", "type": "ordinal", "title": "Days Post-Infection"}, "y": {"aggregate": "median", "field": "v", "type": "quantitative", "title": "Log₁₀ WNV RNA/g tissue"}}}
  ]}]},
{"title": {"text": "B", "anchor": "start", "frame": "bounds", "fontSize": 22, "fontWeight": "bold", "offset": -20},
 "vconcat": [{"width": 186, "height": 122, "title": {"text": "Proximal SI", "fontSize": 17, "fontWeight": "bold", "offset": 3},
  "layer": [
   {"data": {"values": [{"lod": 2.84}]}, "mark": {"type": "rule", "strokeDash": [2, 3.5], "strokeWidth": 2, "color": "black"}, "encoding": {"y": {"field": "lod", "type": "quantitative", "title": "Log₁₀ WNV RNA/g tissue"}}},
   {"data": {"name": "B"}, "mark": {"type": "point", "filled": true, "size": 32, "color": "black", "opacity": 1},
    "encoding": {"x": {"field": "d", "type": "ordinal", "title": "Days Post-Infection", "scale": {"paddingInner": 0.2, "paddingOuter": 0.15}, "axis": {"labelAngle": 0, "labelFontSize": 12, "labelFontWeight": "bold", "tickSize": 4, "tickWidth": 2, "domainWidth": 2, "labelPadding": 1, "titleFontSize": 12, "titleFontWeight": "bold", "titlePadding": 3}},
     "xOffset": {"field": "m", "type": "ordinal"},
     "y": {"field": "v", "type": "quantitative", "title": "Log₁₀ WNV RNA/g tissue", "scale": {"domain": [0, 12], "nice": false}, "axis": {"values": [0, 2, 4, 6, 8, 10, 12], "tickCount": 7, "labelOverlap": false, "labelSeparation": -200, "labelFontSize": 12, "labelFontWeight": "bold", "tickSize": 4, "tickWidth": 2, "domainWidth": 2, "labelPadding": 1, "titleFontSize": 10, "titleFontWeight": "bold", "titlePadding": 4}}}},
   {"data": {"name": "B"}, "mark": {"type": "tick", "thickness": 3, "size": 14, "color": "black", "opacity": 1},
    "encoding": {"x": {"field": "d", "type": "ordinal", "title": "Days Post-Infection"}, "y": {"aggregate": "median", "field": "v", "type": "quantitative", "title": "Log₁₀ WNV RNA/g tissue"}}}
  ]}]},
{"title": {"text": "C", "anchor": "start", "frame": "bounds", "fontSize": 22, "fontWeight": "bold", "offset": -20},
 "vconcat": [{"width": 186, "height": 122, "title": {"text": "Mid SI", "fontSize": 17, "fontWeight": "bold", "offset": 3},
  "layer": [
   {"data": {"values": [{"lod": 2.95}]}, "mark": {"type": "rule", "strokeDash": [2, 3.5], "strokeWidth": 2, "color": "black"}, "encoding": {"y": {"field": "lod", "type": "quantitative", "title": "Log₁₀ WNV RNA/g tissue"}}},
   {"data": {"name": "C"}, "mark": {"type": "point", "filled": true, "size": 32, "color": "black", "opacity": 1},
    "encoding": {"x": {"field": "d", "type": "ordinal", "title": "Days Post-Infection", "scale": {"paddingInner": 0.2, "paddingOuter": 0.15}, "axis": {"labelAngle": 0, "labelFontSize": 12, "labelFontWeight": "bold", "tickSize": 4, "tickWidth": 2, "domainWidth": 2, "labelPadding": 1, "titleFontSize": 12, "titleFontWeight": "bold", "titlePadding": 3}},
     "xOffset": {"field": "m", "type": "ordinal"},
     "y": {"field": "v", "type": "quantitative", "title": "Log₁₀ WNV RNA/g tissue", "scale": {"domain": [0, 12], "nice": false}, "axis": {"values": [0, 2, 4, 6, 8, 10, 12], "tickCount": 7, "labelOverlap": false, "labelSeparation": -200, "labelFontSize": 12, "labelFontWeight": "bold", "tickSize": 4, "tickWidth": 2, "domainWidth": 2, "labelPadding": 1, "titleFontSize": 10, "titleFontWeight": "bold", "titlePadding": 4}}}},
   {"data": {"name": "C"}, "mark": {"type": "tick", "thickness": 3, "size": 14, "color": "black", "opacity": 1},
    "encoding": {"x": {"field": "d", "type": "ordinal", "title": "Days Post-Infection"}, "y": {"aggregate": "median", "field": "v", "type": "quantitative", "title": "Log₁₀ WNV RNA/g tissue"}}}
  ]}]},
{"title": {"text": "D", "anchor": "start", "frame": "bounds", "fontSize": 22, "fontWeight": "bold", "offset": -20},
 "vconcat": [{"width": 186, "height": 122, "title": {"text": "Distal SI", "fontSize": 17, "fontWeight": "bold", "offset": 3},
  "layer": [
   {"data": {"values": [{"lod": 3.14}]}, "mark": {"type": "rule", "strokeDash": [2, 3.5], "strokeWidth": 2, "color": "black"}, "encoding": {"y": {"field": "lod", "type": "quantitative", "title": "Log₁₀ WNV RNA/g tissue"}}},
   {"data": {"name": "D"}, "mark": {"type": "point", "filled": true, "size": 32, "color": "black", "opacity": 1},
    "encoding": {"x": {"field": "d", "type": "ordinal", "title": "Days Post-Infection", "scale": {"paddingInner": 0.2, "paddingOuter": 0.15}, "axis": {"labelAngle": 0, "labelFontSize": 12, "labelFontWeight": "bold", "tickSize": 4, "tickWidth": 2, "domainWidth": 2, "labelPadding": 1, "titleFontSize": 12, "titleFontWeight": "bold", "titlePadding": 3}},
     "xOffset": {"field": "m", "type": "ordinal"},
     "y": {"field": "v", "type": "quantitative", "title": "Log₁₀ WNV RNA/g tissue", "scale": {"domain": [0, 12], "nice": false}, "axis": {"values": [0, 2, 4, 6, 8, 10, 12], "tickCount": 7, "labelOverlap": false, "labelSeparation": -200, "labelFontSize": 12, "labelFontWeight": "bold", "tickSize": 4, "tickWidth": 2, "domainWidth": 2, "labelPadding": 1, "titleFontSize": 10, "titleFontWeight": "bold", "titlePadding": 4}}}},
   {"data": {"name": "D"}, "mark": {"type": "tick", "thickness": 3, "size": 14, "color": "black", "opacity": 1},
    "encoding": {"x": {"field": "d", "type": "ordinal", "title": "Days Post-Infection"}, "y": {"aggregate": "median", "field": "v", "type": "quantitative", "title": "Log₁₀ WNV RNA/g tissue"}}}
  ]}]},
{"title": {"text": "E", "anchor": "start", "frame": "bounds", "fontSize": 22, "fontWeight": "bold", "offset": -20},
 "vconcat": [{"width": 186, "height": 122, "title": {"text": "Colon", "fontSize": 17, "fontWeight": "bold", "offset": 3},
  "layer": [
   {"data": {"values": [{"lod": 3.0}]}, "mark": {"type": "rule", "strokeDash": [2, 3.5], "strokeWidth": 2, "color": "black"}, "encoding": {"y": {"field": "lod", "type": "quantitative", "title": "Log₁₀ WNV RNA/g tissue"}}},
   {"data": {"name": "E"}, "mark": {"type": "point", "filled": true, "size": 32, "color": "black", "opacity": 1},
    "encoding": {"x": {"field": "d", "type": "ordinal", "title": "Days Post-Infection", "scale": {"paddingInner": 0.2, "paddingOuter": 0.15}, "axis": {"labelAngle": 0, "labelFontSize": 12, "labelFontWeight": "bold", "tickSize": 4, "tickWidth": 2, "domainWidth": 2, "labelPadding": 1, "titleFontSize": 12, "titleFontWeight": "bold", "titlePadding": 3}},
     "xOffset": {"field": "m", "type": "ordinal"},
     "y": {"field": "v", "type": "quantitative", "title": "Log₁₀ WNV RNA/g tissue", "scale": {"domain": [0, 12], "nice": false}, "axis": {"values": [0, 2, 4, 6, 8, 10, 12], "tickCount": 7, "labelOverlap": false, "labelSeparation": -200, "labelFontSize": 12, "labelFontWeight": "bold", "tickSize": 4, "tickWidth": 2, "domainWidth": 2, "labelPadding": 1, "titleFontSize": 10, "titleFontWeight": "bold", "titlePadding": 4}}}},
   {"data": {"name": "E"}, "mark": {"type": "tick", "thickness": 3, "size": 14, "color": "black", "opacity": 1},
    "encoding": {"x": {"field": "d", "type": "ordinal", "title": "Days Post-Infection"}, "y": {"aggregate": "median", "field": "v", "type": "quantitative", "title": "Log₁₀ WNV RNA/g tissue"}}}
  ]}]}
]},
{"spacing": 33, "vconcat": [
{"spacing": 10, "vconcat": [
{"title": {"text": "F", "anchor": "start", "frame": "bounds", "fontSize": 20, "fontWeight": "bold", "offset": 6},
 "spacing": 1,
 "vconcat": [
  {"width": 365, "height": 151,
   "layer": [
    {"layer": [
      {"data": {"name": "Fbar"}, "mark": {"type": "bar", "fill": "white", "stroke": "black", "strokeWidth": 1.5},
       "encoding": {"y": {"field": "g", "type": "nominal", "sort": null, "title": " ", "scale": {"paddingInner": 0.35, "paddingOuter": 0.15}, "axis": {"labelFontSize": 9.5, "labelFontWeight": "bold", "tickSize": 3, "tickWidth": 1.5, "domainWidth": 1.5, "labelPadding": 2, "minExtent": 110, "titlePadding": 0, "titleFontSize": 1, "labelLimit": 200}},
        "x": {"field": "mean", "type": "quantitative", "title": null, "scale": {"domain": [0, 13], "nice": false}, "axis": {"values": [0,1,2,3,4,5,6,7,8,9,10,11,12,13], "tickCount": 14, "labelExpr": "datum.value < 13 ? '' + (datum.value + 1) : ''", "labelOffset": 14, "labelFlush": false, "labelOverlap": false, "labelSeparation": -200, "tickSize": 5, "tickWidth": 1.5, "domainWidth": 1.5, "labelFontSize": 11, "labelPadding": 1}}}},
      {"data": {"name": "Fbar"}, "mark": {"type": "errorbar", "ticks": {"size": 14}, "thickness": 1.5, "color": "black"},
       "encoding": {"y": {"field": "g", "type": "nominal", "sort": null, "title": " "}, "x": {"field": "lo", "type": "quantitative", "title": null, "scale": {"domain": [0, 13], "nice": false}}, "x2": {"field": "hi"}}},
      {"data": {"name": "Fpts"}, "mark": {"type": "point", "filled": true, "size": 12, "color": "black", "opacity": 1},
       "encoding": {"y": {"field": "g", "type": "nominal", "sort": null, "title": " "}, "x": {"field": "v", "type": "quantitative", "title": null, "scale": {"domain": [0, 13], "nice": false}}}}
    ]},
    {"data": {"name": "Fbr"}, "layer": [
      {"mark": {"type": "rule", "strokeWidth": 1.5, "color": "black"}, "encoding": {"x": {"field": "x", "type": "quantitative", "title": null, "scale": {"domain": [0, 13], "nice": false}}, "y": {"field": "a", "type": "quantitative", "scale": {"domain": [0.525, 4.475], "reverse": true, "nice": false, "zero": false}, "axis": null}, "y2": {"field": "b"}}},
      {"mark": {"type": "rule", "strokeWidth": 1.5, "color": "black"}, "encoding": {"x": {"field": "xl", "type": "quantitative", "title": null}, "x2": {"field": "x"}, "y": {"field": "a", "type": "quantitative", "axis": null}}},
      {"mark": {"type": "rule", "strokeWidth": 1.5, "color": "black"}, "encoding": {"x": {"field": "xl", "type": "quantitative", "title": null}, "x2": {"field": "x"}, "y": {"field": "b", "type": "quantitative", "axis": null}}},
      {"mark": {"type": "text", "align": "left", "baseline": "middle", "color": "black"}, "encoding": {"x": {"field": "lx", "type": "quantitative", "title": null}, "y": {"field": "ly", "type": "quantitative", "axis": null}, "text": {"field": "t"}, "size": {"field": "t", "type": "nominal", "scale": {"domain": ["ns", "**", "*"], "range": [17, 13, 14]}, "legend": null}}}
    ]}
   ],
   "resolve": {"scale": {"y": "independent"}}},
  {"width": 365, "height": 17,
   "layer": [
    {"data": {"name": "Fsep"}, "mark": {"type": "rule", "strokeWidth": 1.5, "color": "black"}, "encoding": {"x": {"field": "s", "type": "quantitative", "scale": {"domain": [0, 13], "nice": false}, "axis": null}}},
    {"data": {"name": "Flab"}, "mark": {"type": "text", "fontSize": 9, "fontWeight": "bold", "color": "black"}, "encoding": {"x": {"field": "p", "type": "quantitative", "scale": {"domain": [0, 13], "nice": false}, "axis": null}, "text": {"field": "t"}}}
   ]}
 ]},
{"title": {"text": "G", "anchor": "start", "frame": "bounds", "fontSize": 20, "fontWeight": "bold", "offset": 2},
 "spacing": 1,
 "vconcat": [
  {"width": 365, "height": 187,
   "layer": [
    {"layer": [
      {"data": {"name": "Gbar"}, "mark": {"type": "bar", "fill": "white", "stroke": "black", "strokeWidth": 1.5},
       "encoding": {"y": {"field": "g", "type": "nominal", "sort": null, "title": " ", "scale": {"paddingInner": 0.35, "paddingOuter": 0.15}, "axis": {"labelFontSize": 9.5, "labelFontWeight": "bold", "tickSize": 3, "tickWidth": 1.5, "domainWidth": 1.5, "labelPadding": 2, "minExtent": 110, "titlePadding": 0, "titleFontSize": 1, "labelLimit": 200}},
        "x": {"field": "mean", "type": "quantitative", "title": null, "scale": {"domain": [0, 13], "nice": false}, "axis": {"values": [0,1,2,3,4,5,6,7,8,9,10,11,12,13], "tickCount": 14, "labelExpr": "datum.value < 13 ? '' + (datum.value + 1) : ''", "labelOffset": 14, "labelFlush": false, "labelOverlap": false, "labelSeparation": -200, "tickSize": 5, "tickWidth": 1.5, "domainWidth": 1.5, "labelFontSize": 11, "labelPadding": 1}}}},
      {"data": {"name": "Gbar"}, "mark": {"type": "errorbar", "ticks": {"size": 14}, "thickness": 1.5, "color": "black"},
       "encoding": {"y": {"field": "g", "type": "nominal", "sort": null, "title": " "}, "x": {"field": "lo", "type": "quantitative", "title": null, "scale": {"domain": [0, 13], "nice": false}}, "x2": {"field": "hi"}}},
      {"data": {"name": "Gpts"}, "mark": {"type": "point", "filled": true, "size": 20, "color": "black", "opacity": 1},
       "encoding": {"y": {"field": "g", "type": "nominal", "sort": null, "title": " "}, "x": {"field": "v", "type": "quantitative", "title": null, "scale": {"domain": [0, 13], "nice": false}}}}
    ]},
    {"data": {"name": "Gbr"}, "layer": [
      {"mark": {"type": "rule", "strokeWidth": 1.5, "color": "black"}, "encoding": {"x": {"field": "x", "type": "quantitative", "title": null, "scale": {"domain": [0, 13], "nice": false}}, "y": {"field": "a", "type": "quantitative", "scale": {"domain": [0.525, 5.475], "reverse": true, "nice": false, "zero": false}, "axis": null}, "y2": {"field": "b"}}},
      {"mark": {"type": "rule", "strokeWidth": 1.5, "color": "black"}, "encoding": {"x": {"field": "xl", "type": "quantitative", "title": null}, "x2": {"field": "x"}, "y": {"field": "a", "type": "quantitative", "axis": null}}},
      {"mark": {"type": "rule", "strokeWidth": 1.5, "color": "black"}, "encoding": {"x": {"field": "xl", "type": "quantitative", "title": null}, "x2": {"field": "x"}, "y": {"field": "b", "type": "quantitative", "axis": null}}},
      {"mark": {"type": "text", "align": "left", "baseline": "middle", "color": "black"}, "encoding": {"x": {"field": "lx", "type": "quantitative", "title": null}, "y": {"field": "ly", "type": "quantitative", "axis": null}, "text": {"field": "t"}, "size": {"field": "t", "type": "nominal", "scale": {"domain": ["ns", "**", "*"], "range": [13, 12, 13]}, "legend": null}}}
    ]}
   ],
   "resolve": {"scale": {"y": "independent"}}},
  {"width": 365, "height": 17,
   "layer": [
    {"data": {"name": "Fsep"}, "mark": {"type": "rule", "strokeWidth": 1.5, "color": "black"}, "encoding": {"x": {"field": "s", "type": "quantitative", "scale": {"domain": [0, 13], "nice": false}, "axis": null}}},
    {"data": {"name": "Flab"}, "mark": {"type": "text", "fontSize": 9, "fontWeight": "bold", "color": "black"}, "encoding": {"x": {"field": "p", "type": "quantitative", "scale": {"domain": [0, 13], "nice": false}, "axis": null}, "text": {"field": "t"}}}
   ]}
 ]},
{"title": {"text": "H", "anchor": "start", "frame": "bounds", "fontSize": 20, "fontWeight": "bold", "offset": 2},
 "spacing": 1,
 "vconcat": [
  {"width": 365, "height": 150,
   "layer": [
    {"layer": [
      {"data": {"name": "Hbar"}, "mark": {"type": "bar", "fill": "white", "stroke": "black", "strokeWidth": 1.5},
       "encoding": {"y": {"field": "g", "type": "nominal", "sort": null, "title": " ", "scale": {"paddingInner": 0.35, "paddingOuter": 0.15}, "axis": {"labelFontSize": 9.5, "labelFontWeight": "bold", "tickSize": 3, "tickWidth": 1.5, "domainWidth": 1.5, "labelPadding": 2, "minExtent": 110, "titlePadding": 0, "titleFontSize": 1, "labelLimit": 200}},
        "x": {"field": "mean", "type": "quantitative", "title": null, "scale": {"domain": [0, 13], "nice": false}, "axis": {"values": [0,1,2,3,4,5,6,7,8,9,10,11,12,13], "tickCount": 14, "labelExpr": "datum.value < 13 ? '' + (datum.value + 1) : ''", "labelOffset": 14, "labelFlush": false, "labelOverlap": false, "labelSeparation": -200, "tickSize": 5, "tickWidth": 1.5, "domainWidth": 1.5, "labelFontSize": 11, "labelPadding": 1}}}},
      {"data": {"name": "Hbar"}, "mark": {"type": "errorbar", "ticks": {"size": 14}, "thickness": 1.5, "color": "black"},
       "encoding": {"y": {"field": "g", "type": "nominal", "sort": null, "title": " "}, "x": {"field": "lo", "type": "quantitative", "title": null, "scale": {"domain": [0, 13], "nice": false}}, "x2": {"field": "hi"}}},
      {"data": {"name": "Hpts"}, "mark": {"type": "point", "filled": true, "size": 12, "color": "black", "opacity": 1},
       "encoding": {"y": {"field": "g", "type": "nominal", "sort": null, "title": " "}, "x": {"field": "v", "type": "quantitative", "title": null, "scale": {"domain": [0, 13], "nice": false}}}}
    ]},
    {"data": {"name": "Hbr"}, "layer": [
      {"mark": {"type": "rule", "strokeWidth": 1.5, "color": "black"}, "encoding": {"x": {"field": "x", "type": "quantitative", "title": null, "scale": {"domain": [0, 13], "nice": false}}, "y": {"field": "a", "type": "quantitative", "scale": {"domain": [0.525, 4.475], "reverse": true, "nice": false, "zero": false}, "axis": null}, "y2": {"field": "b"}}},
      {"mark": {"type": "rule", "strokeWidth": 1.5, "color": "black"}, "encoding": {"x": {"field": "xl", "type": "quantitative", "title": null}, "x2": {"field": "x"}, "y": {"field": "a", "type": "quantitative", "axis": null}}},
      {"mark": {"type": "rule", "strokeWidth": 1.5, "color": "black"}, "encoding": {"x": {"field": "xl", "type": "quantitative", "title": null}, "x2": {"field": "x"}, "y": {"field": "b", "type": "quantitative", "axis": null}}},
      {"mark": {"type": "text", "align": "left", "baseline": "middle", "color": "black"}, "encoding": {"x": {"field": "lx", "type": "quantitative", "title": null}, "y": {"field": "ly", "type": "quantitative", "axis": null}, "text": {"field": "t"}, "size": {"field": "t", "type": "nominal", "scale": {"domain": ["ns", "**", "*"], "range": [17, 13, 14]}, "legend": null}}}
    ]}
   ],
   "resolve": {"scale": {"y": "independent"}}},
  {"width": 365, "height": 17,
   "layer": [
    {"data": {"name": "Hsep"}, "mark": {"type": "rule", "strokeWidth": 1.5, "color": "black"}, "encoding": {"x": {"field": "s", "type": "quantitative", "scale": {"domain": [0, 13], "nice": false}, "axis": null}}},
    {"data": {"name": "Hlab"}, "mark": {"type": "text", "fontSize": 9, "fontWeight": "bold", "color": "black"}, "encoding": {"x": {"field": "p", "type": "quantitative", "scale": {"domain": [0, 13], "nice": false}, "axis": null}, "text": {"field": "t"}}}
   ]}
 ]}
]},
{"title": {"text": "I", "anchor": "start", "frame": "bounds", "fontSize": 20, "fontWeight": "bold", "offset": -5},
 "spacing": 1,
 "vconcat": [
  {"width": 365, "height": 151,
   "layer": [
    {"layer": [
      {"data": {"name": "Ibar"}, "mark": {"type": "bar", "fill": "white", "stroke": "black", "strokeWidth": 1.5},
       "encoding": {"y": {"field": "g", "type": "nominal", "sort": null, "title": " ", "scale": {"paddingInner": 0.35, "paddingOuter": 0.15}, "axis": {"labelFontSize": 9.5, "labelFontWeight": "bold", "tickSize": 3, "tickWidth": 1.5, "domainWidth": 1.5, "labelPadding": 2, "minExtent": 110, "titlePadding": 0, "titleFontSize": 1, "labelLimit": 200}},
        "x": {"field": "mean", "type": "quantitative", "title": null, "scale": {"domain": [0, 13], "nice": false}, "axis": {"values": [0,1,2,3,4,5,6,7,8,9,10,11,12,13], "tickCount": 14, "labelExpr": "datum.value < 13 ? '' + (datum.value + 1) : ''", "labelOffset": 14, "labelFlush": false, "labelOverlap": false, "labelSeparation": -200, "tickSize": 5, "tickWidth": 1.5, "domainWidth": 1.5, "labelFontSize": 11, "labelPadding": 1}}}},
      {"data": {"name": "Ibar"}, "mark": {"type": "errorbar", "ticks": {"size": 14}, "thickness": 1.5, "color": "black"},
       "encoding": {"y": {"field": "g", "type": "nominal", "sort": null, "title": " "}, "x": {"field": "lo", "type": "quantitative", "title": null, "scale": {"domain": [0, 13], "nice": false}}, "x2": {"field": "hi"}}},
      {"data": {"name": "Ipts"}, "mark": {"type": "point", "filled": true, "size": 12, "color": "black", "opacity": 1},
       "encoding": {"y": {"field": "g", "type": "nominal", "sort": null, "title": " "}, "x": {"field": "v", "type": "quantitative", "title": null, "scale": {"domain": [0, 13], "nice": false}}}}
    ]},
    {"data": {"name": "Ibr"}, "layer": [
      {"mark": {"type": "rule", "strokeWidth": 1.5, "color": "black"}, "encoding": {"x": {"field": "x", "type": "quantitative", "title": null, "scale": {"domain": [0, 13], "nice": false}}, "y": {"field": "a", "type": "quantitative", "scale": {"domain": [0.525, 4.475], "reverse": true, "nice": false, "zero": false}, "axis": null}, "y2": {"field": "b"}}},
      {"mark": {"type": "rule", "strokeWidth": 1.5, "color": "black"}, "encoding": {"x": {"field": "xl", "type": "quantitative", "title": null}, "x2": {"field": "x"}, "y": {"field": "a", "type": "quantitative", "axis": null}}},
      {"mark": {"type": "rule", "strokeWidth": 1.5, "color": "black"}, "encoding": {"x": {"field": "xl", "type": "quantitative", "title": null}, "x2": {"field": "x"}, "y": {"field": "b", "type": "quantitative", "axis": null}}},
      {"mark": {"type": "text", "align": "left", "baseline": "middle", "color": "black"}, "encoding": {"x": {"field": "lx", "type": "quantitative", "title": null}, "y": {"field": "ly", "type": "quantitative", "axis": null}, "text": {"field": "t"}, "size": {"field": "t", "type": "nominal", "scale": {"domain": ["ns", "**", "*"], "range": [17, 13, 14]}, "legend": null}}}
    ]}
   ],
   "resolve": {"scale": {"y": "independent"}}},
  {"width": 365, "height": 17,
   "layer": [
    {"data": {"name": "Isep"}, "mark": {"type": "rule", "strokeWidth": 1.5, "color": "black"}, "encoding": {"x": {"field": "s", "type": "quantitative", "scale": {"domain": [0, 13], "nice": false}, "axis": null}}},
    {"data": {"name": "Ilab"}, "mark": {"type": "text", "fontSize": 9, "fontWeight": "bold", "color": "black"}, "encoding": {"x": {"field": "p", "type": "quantitative", "scale": {"domain": [0, 13], "nice": false}, "axis": null}, "text": {"field": "t"}}}
   ]}
 ]}
]}
]
}
